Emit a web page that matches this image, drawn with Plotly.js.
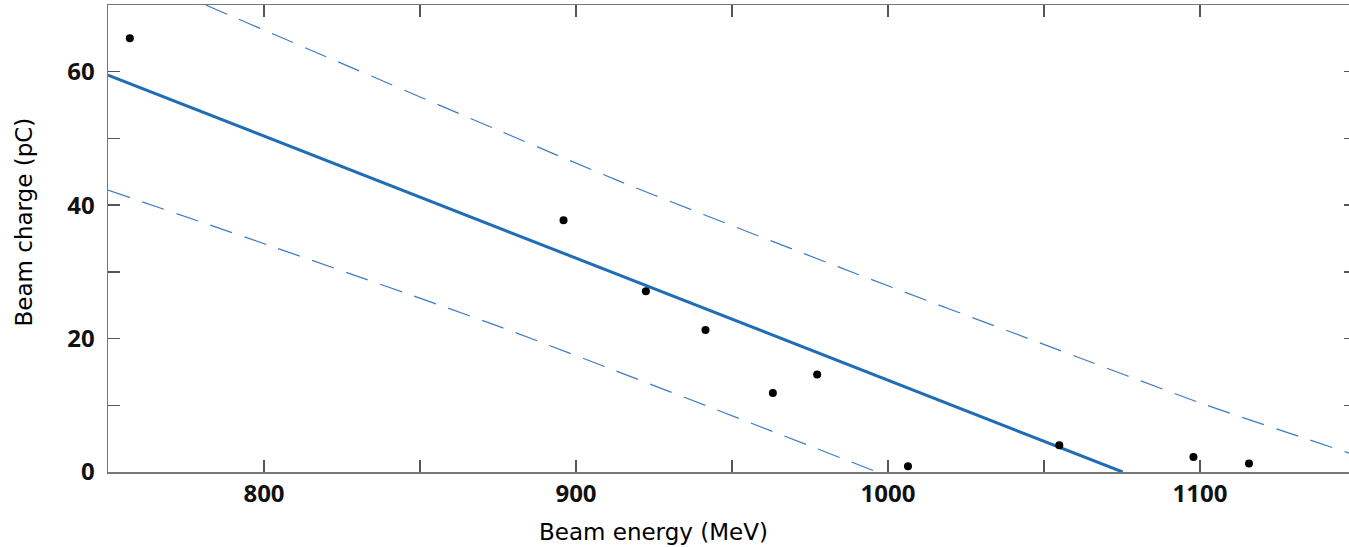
<!DOCTYPE html>
<html>
<head>
<meta charset="utf-8">
<script src="https://cdn.plot.ly/plotly-3.0.1.min.js"></script>
<style>
html,body{margin:0;padding:0;overflow:hidden;background:#fff;}
#chart{width:1360px;height:547px;}
</style>
</head>
<body>
<div id="chart"></div>
<script>
// Measured data points
const energy = [757, 896, 922.4, 941.5, 963.1, 977.3, 1006.4, 1054.9, 1097.9, 1115.7];
const charge = [65.0, 37.75, 27.1, 21.3, 11.85, 14.6, 0.85, 4.0, 2.25, 1.26];

// Linear fit line
const fitX = [750, 1075.2];
const fitY = [59.5, 0];

// Upper prediction band
const upperX = [781.3, 913.1, 989.6, 1052.1, 1101.3, 1150];
const upperY = [70.0, 43.75, 29.76, 18.75, 10.15, 2.5];

// Lower prediction band
const lowerX = [750, 802.3, 875.7, 996.5];
const lowerY = [42.25, 33.85, 21.75, 0];

// Tick labels
const xTickVals = [800, 850, 900, 950, 1000, 1050, 1100];
const xTickText = ['800', '', '900', '', '1000', '', '1100'];
const yTickVals = [0, 10, 20, 30, 40, 50, 60];
const yTickText = ['0', '', '20', '', '40', '', '60'];

const bandColor = '#3d7cc4';
const fitColor = '#1f6db6';

const traces = [
  {x: upperX, y: upperY, mode: 'lines', line: {color: bandColor, width: 1.2, dash: '23px,13px', shape: 'spline', smoothing: 0.6}, hoverinfo: 'skip'},
  {x: lowerX, y: lowerY, mode: 'lines', line: {color: bandColor, width: 1.2, dash: '23px,13px', shape: 'spline', smoothing: 0.6}, hoverinfo: 'skip'},
  {x: fitX, y: fitY, mode: 'lines', line: {color: fitColor, width: 3}},
  {x: energy, y: charge, mode: 'markers', marker: {color: '#000', size: 8}}
];

const tickFont = {family: 'Open Sans, sans-serif', size: 24, color: '#111', weight: 'bold'};
const layout = {
  width: 1360, height: 547,
  margin: {l: 108, r: 4, t: 5, b: 75},
  paper_bgcolor: '#fff', plot_bgcolor: '#fff',
  showlegend: false,
  font: {family: 'DejaVu Sans, sans-serif'},
  xaxis: {
    range: [750, 1150], showgrid: false, zeroline: false,
    showline: true, linecolor: '#777', linewidth: 1.5, mirror: 'ticks',
    ticks: 'inside', ticklen: 12, tickwidth: 1.3, tickcolor: '#555',
    tickvals: xTickVals, ticktext: xTickText, tickfont: tickFont
  },
  yaxis: {
    range: [0, 70], showgrid: false, zeroline: false,
    showline: true, linecolor: '#777', linewidth: 1.5, mirror: 'ticks',
    ticks: 'inside', ticklen: 12, tickwidth: 1.3, tickcolor: '#555',
    tickvals: yTickVals, ticktext: yTickText, tickfont: tickFont,
    ticklabelstandoff: 7
  },
  annotations: [
    {text: 'Beam energy (MeV)', xref: 'paper', yref: 'paper', x: (653 - 108) / 1248, y: -(531.7 - 472) / 467,
     showarrow: false, xanchor: 'center', yanchor: 'middle', font: {family: 'DejaVu Sans', size: 23, color: '#000'}},
    {text: 'Beam charge (pC)', xref: 'paper', yref: 'paper', x: -(108 - 24) / 1248, y: (472 - 222.5) / 467,
     showarrow: false, xanchor: 'center', yanchor: 'middle', textangle: -90, font: {family: 'DejaVu Sans', size: 23, color: '#000'}}
  ]
};

Plotly.newPlot('chart', traces, layout, {displayModeBar: false, staticPlot: true});
</script>
</body>
</html>
